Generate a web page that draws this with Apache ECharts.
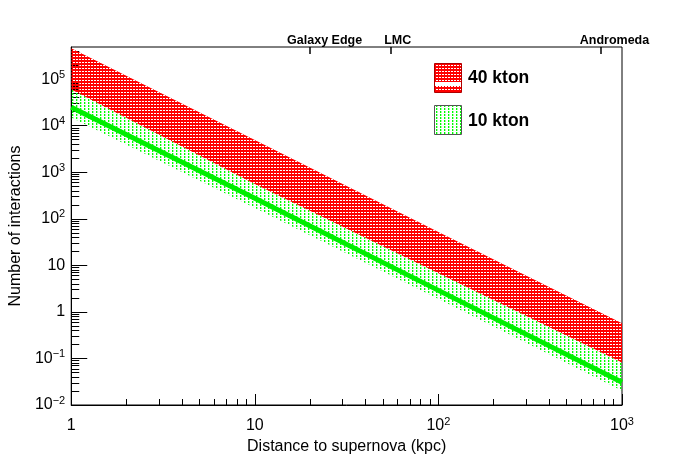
<!DOCTYPE html>
<html>
<head>
<meta charset="utf-8">
<script src="https://cdn.jsdelivr.net/npm/echarts@6/dist/echarts.min.js"></script>
<style>
html,body{margin:0;padding:0;background:#fff}
#chart{width:692px;height:471px}
</style>
</head>
<body>
<div id="chart"></div>
<script>
// distance to supernova (kpc)
const distance = [1, 10, 100, 1000]
// 40 kton band
const ton40Upper = [4.6e5, 4.9e3, 52, 0.57]
const ton40Lower = [6.0e4, 560, 6.8, 0.082]
// 10 kton band and its central line
const ton10Upper = [1.05e5, 1.2e3, 14, 0.167]
const ton10Lower = [1.5e4, 170, 1.9, 0.0203]
const ton10Line = [2.5e4, 275, 2.9, 0.0307]

const xMajor = [1, 10, 100, 1000]
const xTickLabels = ['1', '10', '10^2', '10^3']
const yMajor = [0.01, 0.1, 1, 10, 100, 1e3, 1e4, 1e5]
const yTickLabels = ['10^\u22122', '10^\u22121', '1', '10', '10^2', '10^3', '10^4', '10^5']
const landmarkNames = ['Galaxy Edge', 'LMC', 'Andromeda']
const landmarkDist = [20, 55, 765]
const landmarkLabelAt = [24, 60, 910]

const yMax = 4.9e5
const font = 'Liberation Sans'

function minorTicks(majors, max) {
    const out = []
    majors.forEach(m => {
        for (let k = 2; k <= 9; k++) {
            if (m * k <= max) out.push(m * k)
        }
    })
    return out
}
const xMinor = minorTicks(xMajor.slice(0, 3), 1000)
const yMinor = minorTicks(yMajor, yMax)

function makeTile(w, h, draw) {
    const c = document.createElement('canvas')
    c.width = w
    c.height = h
    draw(c.getContext('2d'))
    return c
}
const redTile = makeTile(3, 3, ctx => {
    ctx.fillStyle = '#ff0000'
    ctx.fillRect(0, 0, 3, 2)
    ctx.fillRect(0, 2, 1, 1)
})
const greenTile = makeTile(4, 3, ctx => {
    ctx.fillStyle = '#00ff00'
    ctx.fillRect(0, 0, 1, 2)
    ctx.fillStyle = 'rgba(0,255,0,0.35)'
    ctx.fillRect(1, 0, 1, 2)
})

function tickText(labels, majors) {
    return v => {
        const lv = Math.log10(v)
        const i = majors.findIndex(m => Math.abs(Math.log10(m) - lv) < 0.01)
        if (i < 0) return ''
        const s = labels[i]
        if (s.indexOf('^') >= 0) {
            const p = s.split('^')
            return '{n|' + p[0] + '}{e|' + p[1] + '}'
        }
        return '{n|' + s + '}'
    }
}
const rich = {
    n: {fontFamily: font, fontSize: 16, lineHeight: 20, color: '#000'},
    e: {fontFamily: font, fontSize: 11, lineHeight: 11, verticalAlign: 'top', color: '#000'}
}

// one polygon per band, corners taken through the axes
function band(name, lower, upper, tile, z) {
    return {
        name: name, type: 'custom', z: z, silent: true,
        data: distance.map((d, i) => [d, lower[i], upper[i]]),
        encode: {x: 0, y: [1, 2]},
        renderItem: (params, api) => {
            if (params.dataIndex !== 0) return null
            const pts = []
            distance.forEach((d, i) => pts.push(api.coord([d, upper[i]])))
            for (let i = distance.length - 1; i >= 0; i--) pts.push(api.coord([distance[i], lower[i]]))
            return {
                type: 'polygon',
                shape: {points: pts},
                style: {fill: {image: tile, repeat: 'repeat'}},
                clipPath: {type: 'rect', shape: params.coordSys}
            }
        }
    }
}

const chart = echarts.init(document.getElementById('chart'))
const option = {
    animation: false,
    backgroundColor: '#fff',
    grid: {left: 69, right: 70, top: 47, bottom: 66, show: true, borderColor: '#000', borderWidth: 1},
    xAxis: [
        {
            type: 'log', logBase: 10, min: 1, max: 1000,
            axisLine: {lineStyle: {color: '#000', width: 1}},
            axisTick: {inside: true, length: 11, customValues: xMajor, lineStyle: {color: '#000'}},
            axisLabel: {customValues: xMajor, formatter: tickText(xTickLabels, xMajor), rich: rich, margin: 11},
            splitLine: {show: false},
            name: 'Distance to supernova (kpc)', nameLocation: 'middle', nameGap: 23,
            nameTextStyle: {fontFamily: font, fontSize: 16, color: '#000'}
        },
        {
            type: 'log', logBase: 10, min: 1, max: 1000, position: 'bottom',
            axisLine: {show: false},
            axisTick: {inside: true, length: 6, customValues: xMinor, lineStyle: {color: '#000'}},
            axisLabel: {show: false},
            splitLine: {show: false}
        },
        {
            type: 'log', logBase: 10, min: 1, max: 1000, position: 'top',
            axisLine: {show: false},
            axisTick: {show: false},
            axisLabel: {
                customValues: landmarkLabelAt, margin: 0,
                fontFamily: font, fontSize: 12.5, fontWeight: 'bold', color: '#000',
                formatter: v => {
                    const i = landmarkLabelAt.findIndex(m => Math.abs(Math.log10(m) - Math.log10(v)) < 0.01)
                    return i < 0 ? '' : landmarkNames[i]
                }
            },
            splitLine: {show: false}
        }
    ],
    yAxis: [
        {
            type: 'log', logBase: 10, min: 0.01, max: yMax, position: 'left',
            axisLine: {lineStyle: {color: '#000', width: 1}},
            axisTick: {inside: true, length: 16, customValues: yMajor, lineStyle: {color: '#000'}},
            axisLabel: {customValues: yMajor, formatter: tickText(yTickLabels, yMajor), rich: rich, margin: 6},
            splitLine: {show: false},
            name: 'Number of interactions', nameLocation: 'middle', nameGap: 40,
            nameTextStyle: {fontFamily: font, fontSize: 16, color: '#000'}
        },
        {
            type: 'log', logBase: 10, min: 0.01, max: yMax, position: 'left',
            axisLine: {show: false},
            axisTick: {inside: true, length: 8, customValues: yMinor, lineStyle: {color: '#000'}},
            axisLabel: {show: false},
            splitLine: {show: false}
        }
    ],
    series: [
        band('10 kton', ton10Lower, ton10Upper, greenTile, 2),
        band('40 kton', ton40Lower, ton40Upper, redTile, 3),
        {
            name: '10 kton line', type: 'line', z: 4, silent: true, symbol: 'none',
            lineStyle: {color: '#00ee00', width: 5},
            data: distance.map((d, i) => [d, ton10Line[i]]),
            // landmark ticks hanging from the top frame
            markLine: {
                silent: true, symbol: 'none', animation: false,
                label: {show: false},
                lineStyle: {color: '#000', width: 1.5, type: 'solid'},
                data: landmarkDist.map(d => [{coord: [d, yMax]}, {coord: [d, yMax / 1.42]}])
            }
        }
    ],
    graphic: [
        {type: 'rect', z: 10, shape: {x: 434.5, y: 63.5, width: 27, height: 29},
            style: {fill: {image: redTile, repeat: 'repeat'}, stroke: '#b00000', lineWidth: 1}},
        {type: 'rect', z: 11, shape: {x: 435, y: 82, width: 26, height: 4}, style: {fill: '#fff'}},
        {type: 'text', z: 11, style: {x: 468, y: 78, text: '40 kton', verticalAlign: 'middle',
            font: 'bold 17.5px "Liberation Sans"', fill: '#000'}},
        {type: 'rect', z: 10, shape: {x: 434.5, y: 105.5, width: 27, height: 29},
            style: {fill: {image: greenTile, repeat: 'repeat'}, stroke: '#555', lineWidth: 1}},
        {type: 'text', z: 11, style: {x: 468, y: 121, text: '10 kton', verticalAlign: 'middle',
            font: 'bold 17.5px "Liberation Sans"', fill: '#000'}}
    ]
}
chart.setOption(option)
</script>
</body>
</html>
